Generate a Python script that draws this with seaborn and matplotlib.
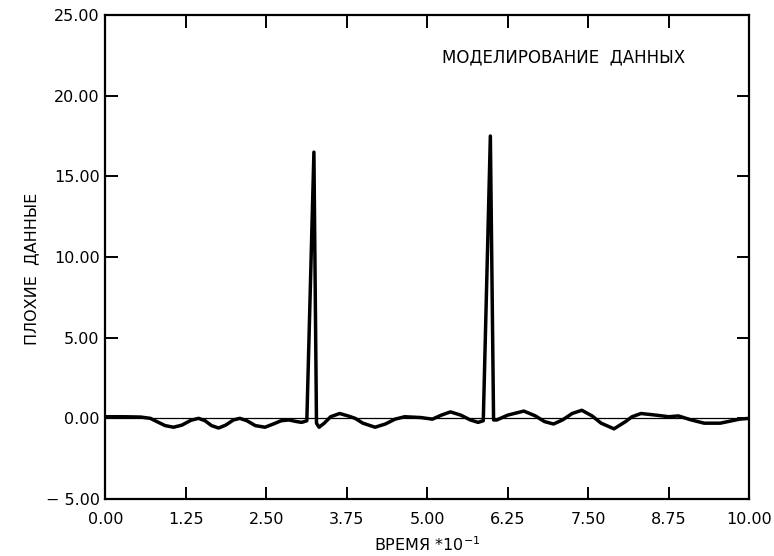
import numpy as np
import pandas as pd
import seaborn as sns
import matplotlib.pyplot as plt

# values (time * 10^-1, "bad data")
time = [0.00, 0.30, 0.55, 0.70, 0.80, 0.93, 1.06, 1.19, 1.33, 1.45,
        1.55, 1.65, 1.76, 1.87, 1.99, 2.09, 2.20, 2.33, 2.48, 2.61,
        2.73, 2.85, 2.97, 3.05, 3.13, 3.24, 3.28, 3.32, 3.40, 3.50,
        3.64, 3.77, 3.88, 4.00, 4.19, 4.35, 4.50, 4.65, 4.90, 5.08,
        5.22, 5.36, 5.52, 5.67, 5.79, 5.87, 5.98, 6.03, 6.08, 6.25,
        6.50, 6.68, 6.82, 6.96, 7.10, 7.25, 7.40, 7.56, 7.70, 7.90,
        8.08, 8.18, 8.32, 8.55, 8.75, 8.90, 9.10, 9.30, 9.55, 9.85,
        10.00]
bad_data = [0.10, 0.10, 0.08, 0.00, -0.20, -0.45, -0.55, -0.42, -0.12, 0.00,
            -0.15, -0.45, -0.60, -0.42, -0.10, 0.00, -0.15, -0.45, -0.55, -0.35,
            -0.15, -0.10, -0.20, -0.25, -0.15, 16.50, -0.30, -0.55, -0.30, 0.10,
            0.30, 0.15, 0.00, -0.30, -0.55, -0.35, -0.05, 0.10, 0.05, -0.05,
            0.20, 0.40, 0.20, -0.10, -0.25, -0.15, 17.50, -0.10, -0.10, 0.20,
            0.45, 0.15, -0.20, -0.35, -0.10, 0.30, 0.50, 0.15, -0.30, -0.65,
            -0.20, 0.10, 0.30, 0.20, 0.10, 0.15, -0.10, -0.30, -0.30, -0.05,
            0.00]

x_ticks = [0.00, 1.25, 2.50, 3.75, 5.00, 6.25, 7.50, 8.75, 10.00]
y_ticks = [-5, 0, 5, 10, 15, 20, 25]

df = pd.DataFrame({"time": time, "bad": bad_data})

sns.set_style("ticks")
plt.rcParams['font.family'] = ['DejaVu Sans']

fig = plt.figure(figsize=(7.74, 5.56), dpi=100)
ax = fig.add_axes([0.136, 0.1025, 0.832, 0.8705])

# thin zero reference line
ax.axhline(0, color='black', lw=0.9, zorder=1)

sns.lineplot(data=df, x="time", y="bad", ax=ax, color='black', lw=2.5,
             estimator=None, sort=False, zorder=3)

ax.set_xlim(0, 10)
ax.set_ylim(-5, 25)
ax.set_xticks(x_ticks)
ax.set_xticklabels([f"{v:.2f}" for v in x_ticks])
ax.set_yticks(y_ticks)
ax.set_yticklabels([f"{v:.2f}".replace("-", "\u2212 ") for v in y_ticks])

for s in ax.spines.values():
    s.set_linewidth(1.6)
    s.set_color('black')

ax.tick_params(axis='both', direction='in', length=9, width=1.4,
               top=True, right=True, labelsize=11.5, colors='black')
ax.tick_params(axis='x', pad=9)
ax.tick_params(axis='y', pad=4)

ax.set_xlabel("ВРЕМЯ *10$^{-1}$", fontsize=11.5, labelpad=6, color='black')
ax.set_ylabel("ПЛОХИЕ  ДАННЫЕ", fontsize=11.5, color='black')
ax.yaxis.set_label_coords(-0.103, 0.475)

ax.text(0.711, 0.913, "МОДЕЛИРОВАНИЕ  ДАННЫХ", transform=ax.transAxes,
        ha='center', va='center', fontsize=12, color='black')

fig.savefig("out.png", dpi=100)
